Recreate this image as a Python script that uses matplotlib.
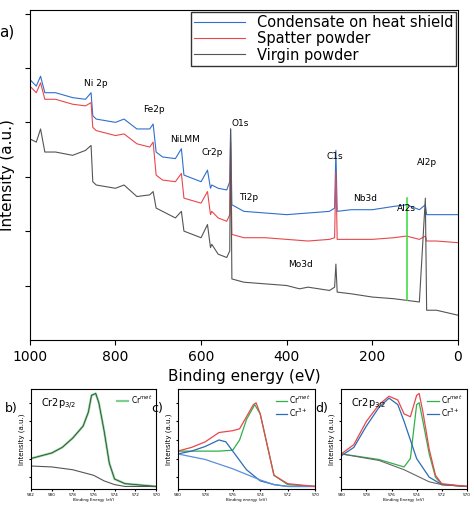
import numpy as np
import matplotlib.pyplot as plt

# survey spectra (binding energy, intensity a.u.)
be_blue = [1000, 985, 975, 965, 940, 900, 870, 857, 853, 845, 800, 780, 750, 720, 712, 705, 690, 660, 646, 640, 600, 585, 578, 575, 560, 540, 533, 531, 528, 500, 450, 400, 350, 300, 288, 285, 282, 250, 200, 150, 120, 90, 76, 73, 50, 0]
in_blue = [79, 77, 80, 75, 75, 73.5, 73, 75, 68, 67, 66, 67, 64, 64, 65.5, 57, 55.5, 55, 58, 50, 48, 51.5, 46, 47, 46, 45.5, 48, 64, 41, 39, 38.5, 38, 38.5, 39, 40, 57.5, 39, 39.5, 39.5, 40.5, 41, 39.5, 41, 38, 38, 38]
be_red = [1000, 985, 975, 965, 940, 900, 870, 857, 853, 845, 800, 780, 750, 720, 712, 705, 690, 660, 646, 640, 600, 585, 578, 575, 560, 540, 533, 531, 528, 500, 450, 400, 350, 300, 288, 285, 282, 250, 200, 150, 120, 90, 76, 73, 50, 0]
in_red = [77, 75, 78, 73, 73, 71.5, 71, 72, 64.5, 63.5, 62, 62.5, 59.5, 58.5, 60, 50, 48.5, 48, 50.5, 43, 41.5, 45, 38, 39, 37, 36, 38, 60, 32, 31, 31, 30.5, 30, 30.5, 31, 51, 30.5, 30.5, 30.5, 31, 31.5, 30.5, 31.5, 30, 30, 29.5]
be_gray = [1000, 985, 975, 965, 940, 900, 870, 857, 853, 845, 800, 780, 750, 720, 712, 705, 690, 660, 646, 640, 600, 585, 578, 575, 560, 540, 533, 531, 528, 500, 450, 400, 370, 350, 300, 288, 285, 282, 250, 200, 150, 120, 90, 76, 73, 50, 0]
in_gray = [61, 60, 64, 57, 57, 56, 57.5, 59, 48, 47, 46, 47, 43.5, 44, 45, 40, 39, 37, 39, 33, 31, 35, 28, 29, 26, 25, 27, 64, 18.5, 17.5, 17, 16.5, 15.5, 16, 15, 16, 23, 14.5, 14, 13, 12.5, 12, 11.5, 43, 9, 9, 7.5]

labels = ["Ni 2p", "Fe2p", "NiLMM", "Cr2p", "O1s", "Ti2p", "C1s", "Nb3d", "Al2s", "Al2p", "Mo3d"]
label_be = [845, 710, 637, 575, 508, 488, 287, 217, 121, 72, 367]
label_y = [77, 69, 60, 56, 65, 42.5, 55, 42, 39, 53, 22]

# Cr2p high-resolution panels
b_x = [582, 581, 580, 579, 578, 577, 576.5, 576.2, 575.8, 575.5, 575, 574.5, 574, 573, 572, 570]
b_raw = [0.30, 0.33, 0.36, 0.42, 0.52, 0.65, 0.80, 0.98, 1.0, 0.90, 0.60, 0.25, 0.08, 0.03, 0.02, 0.0]
b_bg_x = [582, 580, 578, 576, 575, 574, 573, 570]
b_bg = [0.22, 0.21, 0.18, 0.12, 0.06, 0.02, 0.0, 0.0]

c_x = [580, 579, 578, 577, 576, 575.5, 575, 574.5, 574.3, 574, 573.5, 573, 572, 570]
c_raw = [0.38, 0.42, 0.48, 0.58, 0.60, 0.62, 0.75, 0.88, 0.90, 0.78, 0.45, 0.12, 0.03, 0.0]
c_gx = [580, 577, 576, 575.5, 575, 574.4, 574, 573.5, 573, 572, 570]
c_green = [0.38, 0.38, 0.39, 0.50, 0.72, 0.88, 0.78, 0.45, 0.12, 0.02, 0.0]
c_bx = [580, 579, 578, 577, 576.5, 576, 575, 574, 573, 572, 570]
c_blue = [0.35, 0.38, 0.43, 0.50, 0.48, 0.38, 0.18, 0.06, 0.02, 0.0, 0.0]
c_bgx = [580, 578, 576, 574, 573, 572, 570]
c_bg = [0.35, 0.29, 0.19, 0.07, 0.02, 0.0, 0.0]

d_x = [580, 579, 578, 577, 576.2, 575.5, 575, 574.5, 574, 573.8, 573.5, 573, 572.5, 572, 570]
d_raw = [0.35, 0.45, 0.70, 0.88, 0.97, 0.93, 0.78, 0.75, 0.98, 1.0, 0.80, 0.40, 0.12, 0.03, 0.0]
d_bx = [580, 579, 578, 577, 576.2, 575.5, 575, 574.5, 574, 573, 572, 570]
d_blue = [0.33, 0.42, 0.65, 0.85, 0.95, 0.88, 0.70, 0.50, 0.30, 0.10, 0.02, 0.0]
d_gx = [580, 577, 576, 575, 574.5, 574, 573.8, 573.5, 573, 572.5, 572, 570]
d_green = [0.35, 0.29, 0.25, 0.21, 0.30, 0.88, 0.90, 0.70, 0.35, 0.10, 0.02, 0.0]
d_bgx = [580, 577, 575, 573, 572, 570]
d_bg = [0.35, 0.28, 0.18, 0.05, 0.02, 0.0]

fig = plt.figure(figsize=(4.74, 5.15), dpi=100)

ax = fig.add_axes([0.063, 0.34, 0.903, 0.64])
ax.plot(be_blue, in_blue, color='#2f6fd0', lw=0.8, label='Condensate on heat shield')
ax.plot(be_red, in_red, color='#e8474c', lw=0.8, label='Spatter powder')
ax.plot(be_gray, in_gray, color='#555555', lw=0.8, label='Virgin powder')
ax.plot([120, 120], [12, 43], color='#44dd44', lw=1.2)
ax.set_xlim(1000, 0)
ax.set_ylim(0, 100)
ax.set_xticks([1000, 800, 600, 400, 200, 0])
ax.set_yticks(np.arange(0, 101, 16.5)[1:])
ax.set_yticklabels([])
ax.tick_params(labelsize=10)
ax.set_xlabel('Binding energy (eV)', fontsize=11)
ax.set_ylabel('Intensity (a.u.)', fontsize=11)
for t, x, y in zip(labels, label_be, label_y):
    ax.text(x, y, t, fontsize=6.5, ha='center')
ax.text(-0.055, 0.92, 'a)', transform=ax.transAxes, fontsize=11, ha='center')
ax.legend(loc='upper right', fontsize=10.5, frameon=True, fancybox=False, edgecolor='black',
          borderpad=0.2, labelspacing=0.1, handlelength=3.5, borderaxespad=0.1)

def small(rect, xlim, xticks, letter, title, xlabel):
    a = fig.add_axes(rect)
    a.set_xlim(*xlim)
    a.set_ylim(-0.03, 1.05)
    a.set_xticks(xticks)
    a.set_yticks([0.1, 0.3, 0.5, 0.7, 0.9])
    a.set_yticklabels([])
    a.tick_params(labelsize=3, length=1.5, pad=1)
    a.set_xlabel(xlabel, fontsize=3, labelpad=1)
    a.set_ylabel('Intensity (a.u.)', fontsize=5, labelpad=2)
    fig.text(rect[0] - 0.055, rect[1] + rect[3] - 0.045, letter, fontsize=9)
    if title:
        a.text(0.08, 0.82, title, transform=a.transAxes, fontsize=7)
    return a

ab = small([0.065, 0.05, 0.265, 0.195], (582, 570), [582, 580, 578, 576, 574, 572, 570], 'b)', r'Cr2p$_{3/2}$', 'Binding Energy (eV)')
ab.plot(b_x, b_raw, color='#7ccf8c', lw=1.6, label=r'Cr$^{met}$')
ab.plot(b_x, b_raw, color='#333333', lw=0.5)
ab.plot(b_bg_x, b_bg, color='#555555', lw=0.8)
ab.legend(loc='upper right', fontsize=5.5, frameon=False, handlelength=1.5, borderpad=0.1, handletextpad=0.3)

ac = small([0.375, 0.05, 0.29, 0.195], (580, 570), [580, 578, 576, 574, 572, 570], 'c)', None, 'Binding energy (eV)')
ac.plot(c_gx, c_green, color='#2fb04a', lw=0.9, label=r'Cr$^{met}$')
ac.plot(c_bx, c_blue, color='#2b6cb5', lw=0.9, label=r'Cr$^{3+}$')
ac.plot(c_bgx, c_bg, color='#5a8fd8', lw=0.9)
ac.plot(c_x, c_raw, color='#e8474c', lw=0.9)
ac.legend(loc='upper right', fontsize=5.5, frameon=False, handlelength=1.5, borderpad=0.1, labelspacing=0.1, handletextpad=0.3)

ad = small([0.72, 0.05, 0.265, 0.195], (580, 570), [580, 578, 576, 574, 572, 570], 'd)', r'Cr2p$_{3/2}$', 'Binding Energy (eV)')
ad.plot(d_gx, d_green, color='#2fb04a', lw=0.9, label=r'Cr$^{met}$')
ad.plot(d_bx, d_blue, color='#2b6cb5', lw=0.9, label=r'Cr$^{3+}$')
ad.plot(d_bgx, d_bg, color='#666666', lw=0.8)
ad.plot(d_x, d_raw, color='#e8474c', lw=0.9)
ad.legend(loc='upper right', fontsize=5.5, frameon=False, handlelength=1.5, borderpad=0.1, labelspacing=0.1, handletextpad=0.3)

fig.savefig('out.png', dpi=100)
